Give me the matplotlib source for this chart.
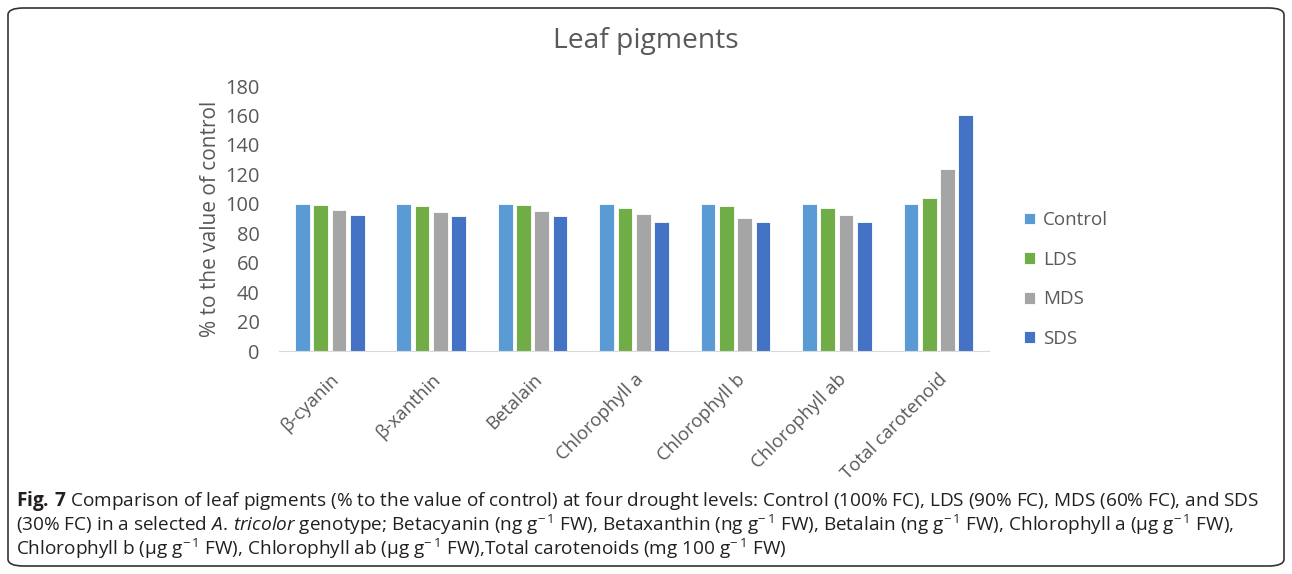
import matplotlib.pyplot as plt
import numpy as np
from matplotlib.patches import FancyBboxPatch

plt.rcParams["font.family"] = ["Open Sans", "DejaVu Sans"]
plt.rcParams["mathtext.fontset"] = "custom"
plt.rcParams["mathtext.rm"] = "Open Sans"
plt.rcParams["mathtext.it"] = "Open Sans:italic"
plt.rcParams["mathtext.bf"] = "Open Sans:bold"

CATEGORIES = [
    "β-cyanin",
    "β-xanthin",
    "Betalain",
    "Chlorophyll a",
    "Chlorophyll b",
    "Chlorophyll ab",
    "Total carotenoid",
]
SERIES = ["Control", "LDS", "MDS", "SDS"]
control = [100, 100, 100, 100, 100, 100, 100]
lds = [99.5, 98.4, 98.9, 96.9, 98.2, 97.5, 104.3]
mds = [95.5, 94.6, 95.0, 93.2, 90.7, 92.1, 124.0]
sds = [92.3, 91.4, 91.9, 87.8, 87.4, 87.6, 160.2]

COLORS = ["#5B9BD5", "#70AD47", "#A5A5A5", "#4472C4"]
TXT = "#595959"

fig = plt.figure(figsize=(12.92, 5.74), dpi=100)
ax = fig.add_axes([0.216, 0.3885, 0.5495, 0.4615])

x = np.arange(len(CATEGORIES))
step = 0.18
width = 0.145
for k, (name, vals) in enumerate(zip(SERIES, [control, lds, mds, sds])):
    ax.bar(x + (k - 1.5) * step, vals, width, color=COLORS[k], label=name,
           edgecolor="white", linewidth=0.6)

ax.set_xlim(-0.5, len(CATEGORIES) - 0.5)
ax.set_ylim(0, 180)
ax.set_yticks(range(0, 181, 20))
ax.set_xticks(x)
ax.set_xticklabels(CATEGORIES, rotation=45, ha="right", rotation_mode="anchor",
                   fontsize=13.3, color=TXT)
ax.tick_params(axis="y", length=0, labelsize=14.4, labelcolor=TXT, pad=14)
ax.tick_params(axis="x", length=0, pad=14)
for s in ["top", "right", "left"]:
    ax.spines[s].set_visible(False)
ax.spines["bottom"].set_color("#D9D9D9")
ax.set_ylabel("% to the value of control", fontsize=15, color=TXT, labelpad=3)

fig.text(0.5, 0.928, "Leaf pigments", ha="center", va="center", fontsize=20.3, color=TXT)

ax.legend(loc="center left", bbox_to_anchor=(1.025, 0.27), frameon=False,
          fontsize=13.5, labelcolor=TXT, handlelength=0.6, handleheight=0.6,
          handletextpad=0.45, labelspacing=1.15)

# rounded border
fig.patches.append(FancyBboxPatch((8 / 1292, 8 / 574), 1276 / 1292, 558 / 574,
                                  boxstyle="round,pad=0,rounding_size=0.012",
                                  transform=fig.transFigure, fill=False,
                                  edgecolor="#333333", linewidth=1.2))

cap = [
    r"$\mathbf{Fig.\,7}$ Comparison of leaf pigments (% to the value of control) at four drought levels: "
    r"Control (100% FC), LDS (90% FC), MDS (60% FC), and SDS",
    r"(30% FC) in a selected $\mathit{A.\,tricolor}$ genotype; Betacyanin (ng g$^{-\,1}$ FW), "
    r"Betaxanthin (ng g$^{-\,1}$ FW), Betalain (ng g$^{-\,1}$ FW), Chlorophyll a (µg g$^{-\,1}$ FW),",
    r"Chlorophyll b (µg g$^{-\,1}$ FW), Chlorophyll ab (µg g$^{-\,1}$ FW),Total carotenoids (mg 100 g$^{-\,1}$ FW)",
]
for i, line in enumerate(cap):
    fig.text(16 / 1292, 1 - (501 + 24 * i) / 574, line, ha="left", va="center",
             fontsize=13.65, color="#231F20")

fig.savefig("out.png", dpi=100)
